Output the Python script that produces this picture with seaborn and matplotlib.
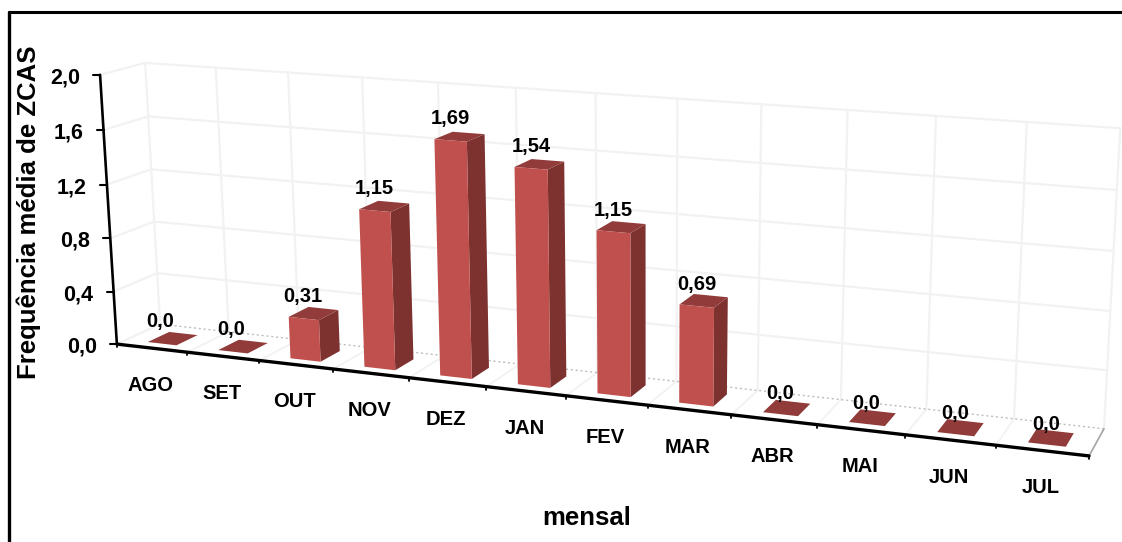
import numpy as np
import pandas as pd
import matplotlib
matplotlib.use('Agg')
import matplotlib.pyplot as plt
from matplotlib.patches import Polygon
from matplotlib.transforms import Affine2D, Transform
import seaborn as sns

# datos de la grafica
meses = ['AGO', 'SET', 'OUT', 'NOV', 'DEZ', 'JAN', 'FEV', 'MAR', 'ABR', 'MAI', 'JUN', 'JUL']
valores = [0.0, 0.0, 0.31, 1.15, 1.69, 1.54, 1.15, 0.69, 0.0, 0.0, 0.0, 0.0]
etiquetas = ['0,0', '0,0', '0,31', '1,15', '1,69', '1,54', '1,15', '0,69', '0,0', '0,0', '0,0', '0,0']
ticks_y = [0.0, 0.4, 0.8, 1.2, 1.6, 2.0]
ticks_y_txt = ['0,0', '0,4', '0,8', '1,2', '1,6', '2,0']

ANCHO, ALTO = 1122, 542
COLOR_FRENTE = '#C0504D'
COLOR_LADO = '#7D3230'
COLOR_TECHO = '#913C3A'
COLOR_REJILLA = '#F2F2F2'
Y_FRENTE, Y_FONDO = 0.22, 0.72

# calibracion de la caja 3D: (mes, profundidad, valor) -> pixel de la imagen
caja_3d = np.array([[0, 0, 0], [0, 0, 2], [12, 0, 0], [0, 1, 0], [0, 1, 2],
                    [12, 1, 0], [12, 1, 2], [6, 1, 2]], dtype=float)
caja_px = np.array([[117, 343], [100, 75], [1089, 457], [160, 325], [145, 63],
                    [1104, 428], [1120, 128], [596, 93]], dtype=float)

filas, lado_b = [], []
for (x, y, z), (u, v) in zip(caja_3d, caja_px):
    filas.append([x, y, z, 1, 0, 0, 0, 0, -u * x, -u * y, -u * z])
    filas.append([0, 0, 0, 0, x, y, z, 1, -v * x, -v * y, -v * z])
    lado_b += [u, v]
P = np.append(np.linalg.lstsq(np.array(filas), np.array(lado_b), rcond=None)[0], 1).reshape(3, 4)


def proy(x, y, z):
    u, v, w = P @ np.array([x, y, z, 1.0])
    return u / w, v / w


class Frente(Transform):
    # pasa el rectangulo de seaborn (categoria, valor) a la cara frontal de la barra
    input_dims = 2
    output_dims = 2

    def transform_non_affine(self, puntos):
        sal = [proy(x + 0.51, Y_FRENTE, z) for x, z in np.asarray(puntos)]
        return np.array([[u, ALTO - v] for u, v in sal])


sns.set_theme(style='white')
plt.rcParams['font.family'] = ['Liberation Sans', 'DejaVu Sans']
plt.rcParams['font.weight'] = 'bold'

fig = plt.figure(figsize=(ANCHO / 100, ALTO / 100), dpi=100, facecolor='white')
ax = fig.add_axes([0, 0, 1, 1])

df = pd.DataFrame({'mes': meses, 'valor': valores})
sns.barplot(data=df, x='mes', y='valor', color=COLOR_FRENTE, saturation=1, width=0.41, ax=ax, zorder=4)
ax.set_xlim(-0.5, 11.5)
ax.set_ylim(0, 2)
ax.axis('off')

pix = Affine2D().scale(1, -1).translate(0, ALTO)   # coordenadas en pixeles de la imagen


def linea(a, b, **kw):
    ax.plot([a[0], b[0]], [a[1], b[1]], transform=pix, clip_on=False, solid_capstyle='round', **kw)


def texto(x, y, s, **kw):
    ax.text(x, y, s, transform=pix, ha='center', va='center', color='black', fontweight='bold', **kw)


# marco de la imagen (sale por la derecha y por abajo)
linea((9, ALTO), (9, 11.5), color='black', lw=2.4, zorder=1)
linea((9, 11.5), (ANCHO, 11.5), color='black', lw=2.2, zorder=1)

# paredes y suelo
for z in ticks_y:
    if z > 0:
        linea(proy(0, 1, z), proy(12, 1, z), color=COLOR_REJILLA, lw=1.6, zorder=1)
    linea(proy(0, 0, z), proy(0, 1, z), color=COLOR_REJILLA, lw=1.6, zorder=1)
for i in range(13):
    linea(proy(i, 1, 0), proy(i, 1, 2), color=COLOR_REJILLA, lw=1.6, zorder=1)
    linea(proy(i, 0, 0), proy(i, 1, 0), color=COLOR_REJILLA, lw=1.3, zorder=1)
linea(proy(0, 1, 0), proy(12, 1, 0), color='#BDBDBD', lw=1.0, ls=(0, (1.5, 2)), zorder=1.5)
linea(proy(12, 0, 0), proy(12, 1, 0), color='#A6A6A6', lw=1.2, zorder=1.5)

# ejes en negro con sus marcas
linea(proy(0, 0, 0), proy(0, 0, 2), color='black', lw=1.9, zorder=2)
linea(proy(0, 0, 0), proy(12, 0, 0), color='black', lw=2.4, zorder=2)
for z, s in zip(ticks_y, ticks_y_txt):
    u, v = proy(0, 0, z)
    linea((u - 7, v), (u, v), color='black', lw=1.5, zorder=2)
    texto(u - 35, v + 3, s, fontsize=15.5)
for i in range(13):
    u, v = proy(i, 0, 0)
    linea((u, v), (u, v + 3), color='black', lw=1.3, zorder=2)

# las barras: el frente lo dibuja seaborn, el lado y el techo salen de su geometria
for i, (barra, etiqueta, mes) in enumerate(zip(ax.patches, etiquetas, meses)):
    x0 = barra.get_x() + 0.51
    x1 = x0 + barra.get_width()
    h = barra.get_height()
    barra.set_transform(Frente())
    barra.set_clip_on(False)
    barra.set_edgecolor('none')
    lado = [proy(x1, Y_FRENTE, 0), proy(x1, Y_FONDO, 0), proy(x1, Y_FONDO, h), proy(x1, Y_FRENTE, h)]
    techo = [proy(x0, Y_FRENTE, h), proy(x1, Y_FRENTE, h), proy(x1, Y_FONDO, h), proy(x0, Y_FONDO, h)]
    if h > 0:
        ax.add_patch(Polygon(lado, closed=True, fc=COLOR_LADO, ec='none', transform=pix, clip_on=False, zorder=3))
    ax.add_patch(Polygon(techo, closed=True, fc=COLOR_TECHO, ec='none', transform=pix, clip_on=False, zorder=3))
    xc = (x0 + x1) / 2
    u, v = proy(xc, Y_FONDO, h)
    texto(u - 23 + 1.27 * i, v - 12.5 + 0.5 * i - 2.5 * h, etiqueta, fontsize=14.5, zorder=5)
    u, v = proy(xc, 0, 0)
    texto(u - 2, v + 37, mes, fontsize=14.5)

texto(29, 212, 'Frequência média de ZCAS', fontsize=18.5, rotation=90)
texto(587, 518, 'mensal', fontsize=18.5)

fig.savefig('out.png', dpi=100, facecolor='white')
